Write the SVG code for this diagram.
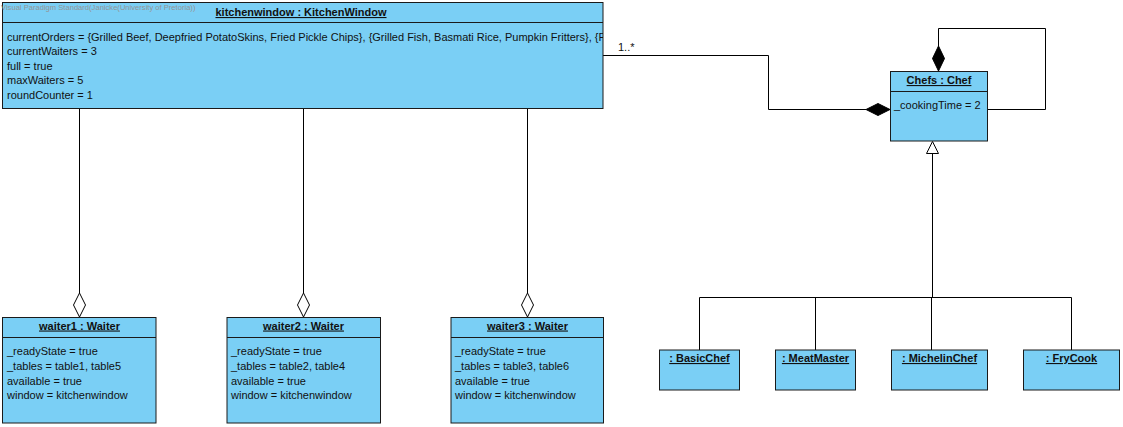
<svg xmlns="http://www.w3.org/2000/svg" width="1123" height="427" viewBox="0 0 1123 427">
<style>
.box{fill:#7acff5;stroke:#1a1a1a;stroke-width:1}
.sep{stroke:#1a1a1a;stroke-width:1}
.t{font-family:"Liberation Sans",Arial,sans-serif;font-size:11px;font-weight:bold;text-decoration:underline;fill:#111;text-anchor:middle}
.a{font-family:"Liberation Sans",Arial,sans-serif;font-size:11px;fill:#111}
.ln{fill:none;stroke:#000;stroke-width:1}
.wm{font-family:"Liberation Sans",Arial,sans-serif;font-size:7.6px;fill:#959595}
</style>
<defs>
<clipPath id="kwclip"><rect x="2" y="23" width="601" height="85"/></clipPath>
</defs>
<rect x="0" y="0" width="1123" height="427" fill="#ffffff"/>

<g id="connectors">
  <line class="ln" x1="79.5" y1="109" x2="79.5" y2="293"/>
  <polygon points="79.5,293 85.5,305 79.5,317 73.5,305" fill="#fff" stroke="#000"/>
  <line class="ln" x1="303.5" y1="109" x2="303.5" y2="293"/>
  <polygon points="303.5,293 309.5,305 303.5,317 297.5,305" fill="#fff" stroke="#000"/>
  <line class="ln" x1="527.5" y1="109" x2="527.5" y2="293"/>
  <polygon points="527.5,293 533.5,305 527.5,317 521.5,305" fill="#fff" stroke="#000"/>
  <polyline class="ln" points="603,55.5 768.5,55.5 768.5,109.5 866,109.5"/>
  <polygon points="866,109.5 878,103.5 890,109.5 878,115.5" fill="#000" stroke="#000"/>
  <text class="a" x="618" y="51">1..*</text>
  <polyline class="ln" points="938.5,46 938.5,28.5 1045.5,28.5 1045.5,109.5 988,109.5"/>
  <polygon points="938.5,46 944.5,58.5 938.5,71 932.5,58.5" fill="#000" stroke="#000"/>
  <polygon points="932.5,141.5 938.5,153.5 926.5,153.5" fill="#fff" stroke="#000"/>
  <line class="ln" x1="932.5" y1="153.5" x2="932.5" y2="297.5"/>
  <line class="ln" x1="699.5" y1="297.5" x2="1071.5" y2="297.5"/>
  <line class="ln" x1="699.5" y1="297.5" x2="699.5" y2="350"/>
  <line class="ln" x1="815.5" y1="297.5" x2="815.5" y2="350"/>
  <line class="ln" x1="931.5" y1="297.5" x2="931.5" y2="350"/>
  <line class="ln" x1="1071.5" y1="297.5" x2="1071.5" y2="350"/>
</g>

<g id="kitchenwindow">
  <rect class="box" x="2.5" y="2.5" width="600.5" height="106"/>
  <line class="sep" x1="2.5" y1="22.5" x2="603" y2="22.5"/>
  <text class="t" x="301" y="16">kitchenwindow : KitchenWindow</text>
  <g clip-path="url(#kwclip)">
    <text class="a" x="7" y="40.5">currentOrders = {Grilled Beef, Deepfried PotatoSkins, Fried Pickle Chips}, {Grilled Fish, Basmati Rice, Pumpkin Fritters}, {Fried Chicken}</text>
  </g>
  <text class="a" x="7" y="55">currentWaiters = 3</text>
  <text class="a" x="7" y="69.5">full = true</text>
  <text class="a" x="7" y="84">maxWaiters = 5</text>
  <text class="a" x="7" y="98.5">roundCounter = 1</text>
</g>

<text class="wm" x="1" y="10">Visual Paradigm Standard(Janicke(University of Pretoria))</text>

<g id="waiter1">
  <rect class="box" x="2.5" y="317.5" width="153.5" height="105.5"/>
  <line class="sep" x1="2.5" y1="337.5" x2="156" y2="337.5"/>
  <text class="t" x="79.5" y="329.5">waiter1 : Waiter</text>
  <text class="a" x="7" y="355">_readyState = true</text>
  <text class="a" x="7" y="369.5">_tables = table1, table5</text>
  <text class="a" x="7" y="384.5">available = true</text>
  <text class="a" x="7" y="399">window = kitchenwindow</text>
</g>

<g id="waiter2">
  <rect class="box" x="227" y="317.5" width="153.5" height="105.5"/>
  <line class="sep" x1="227" y1="337.5" x2="380.5" y2="337.5"/>
  <text class="t" x="303.5" y="329.5">waiter2 : Waiter</text>
  <text class="a" x="231" y="355">_readyState = true</text>
  <text class="a" x="231" y="369.5">_tables = table2, table4</text>
  <text class="a" x="231" y="384.5">available = true</text>
  <text class="a" x="231" y="399">window = kitchenwindow</text>
</g>

<g id="waiter3">
  <rect class="box" x="451" y="317.5" width="152.5" height="105.5"/>
  <line class="sep" x1="451" y1="337.5" x2="603.5" y2="337.5"/>
  <text class="t" x="527.5" y="329.5">waiter3 : Waiter</text>
  <text class="a" x="455" y="355">_readyState = true</text>
  <text class="a" x="455" y="369.5">_tables = table3, table6</text>
  <text class="a" x="455" y="384.5">available = true</text>
  <text class="a" x="455" y="399">window = kitchenwindow</text>
</g>

<g id="chefs">
  <rect class="box" x="890.5" y="71.5" width="97" height="69.5"/>
  <line class="sep" x1="890.5" y1="91.5" x2="987.5" y2="91.5"/>
  <text class="t" x="939" y="84">Chefs : Chef</text>
  <text class="a" x="894" y="108.5">_cookingTime = 2</text>
</g>

<g id="basicchef">
  <rect class="box" x="659.5" y="350" width="80" height="40"/>
  <text class="t" x="699.5" y="362">: BasicChef</text>
</g>
<g id="meatmaster">
  <rect class="box" x="775.5" y="350" width="80" height="40"/>
  <text class="t" x="815.5" y="362">: MeatMaster</text>
</g>
<g id="michelinchef">
  <rect class="box" x="891.5" y="350" width="96" height="40"/>
  <text class="t" x="939.5" y="362">: MichelinChef</text>
</g>
<g id="frycook">
  <rect class="box" x="1023.5" y="350" width="96" height="40"/>
  <text class="t" x="1071.5" y="362">: FryCook</text>
</g>
</svg>
